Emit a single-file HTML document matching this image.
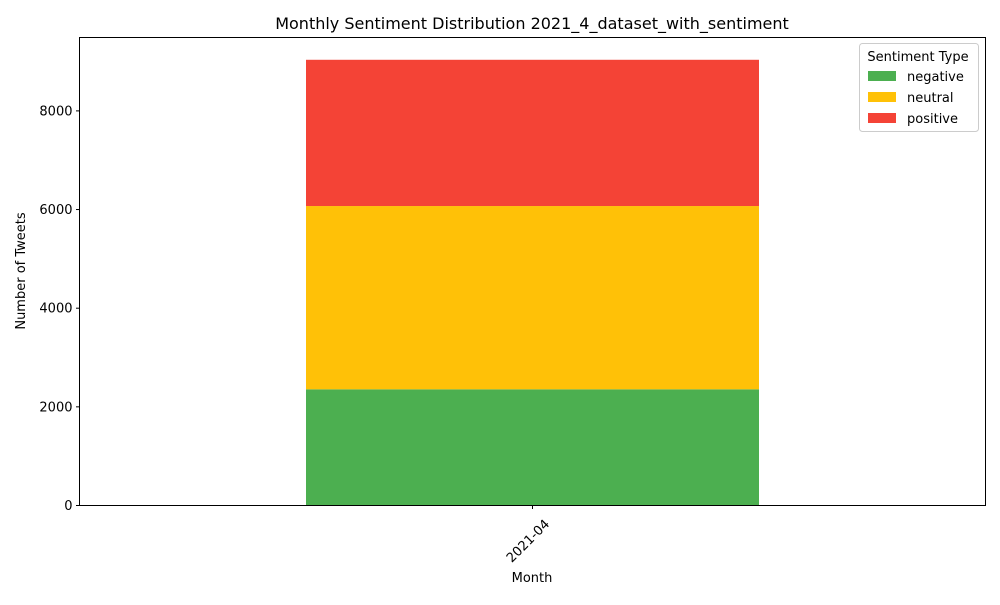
<!DOCTYPE html>
<html><head><meta charset="utf-8"><style>
body{margin:0;background:#fff;font-family:"Liberation Sans","DejaVu Sans",sans-serif;}
svg text{font-family:"DejaVu Sans","Liberation Sans",sans-serif;}
</style></head><body>
<svg id="chart" width="1000" height="600" viewBox="0 0 1000 600">
<rect width="1000" height="600" fill="#fff"/>
<text x="532" y="29" font-size="16" text-anchor="middle">Monthly Sentiment Distribution 2021_4_dataset_with_sentiment</text>
<g id="bars"></g>
<g id="yticks"></g>
<g id="xticks"></g>
<rect x="79.5" y="37.5" width="906" height="468" fill="none" stroke="#000" stroke-width="1"/>
<text x="532" y="582" font-size="13" text-anchor="middle">Month</text>
<text transform="translate(25,271) rotate(-90)" font-size="13" text-anchor="middle">Number of Tweets</text>
<g id="legend">
<rect x="859.5" y="43.5" width="119" height="88" rx="3" fill="#fff" stroke="#ccc"/>
<text x="918" y="61" font-size="13" text-anchor="middle">Sentiment Type</text>
</g>
</svg>
<script>
const categories = ["2021-04"];
const seriesNames = ["negative","neutral","positive"];
const negative = [2355];
const neutral = [3716];
const positive = [2965];
const yTickLabels = [0,2000,4000,6000,8000];
const colors = ["#4caf50","#ffc107","#f44336"];
const series = [negative, neutral, positive];

const NS="http://www.w3.org/2000/svg";
const L=79.5,R=985.5,T=37.5,B=505.5;
let maxTotal=0;
categories.forEach((c,i)=>{let s=0;series.forEach(a=>s+=a[i]);maxTotal=Math.max(maxTotal,s);});
const yMax=maxTotal*1.05;
const y=v=>B-(v/yMax)*(B-T);
const n=categories.length;
const x=i=>L+(i+0.5)/n*(R-L);
const bw=(R-L)/n*0.5;
function mk(tag,attrs,parent){const e=document.createElementNS(NS,tag);for(const k in attrs)e.setAttribute(k,attrs[k]);parent.appendChild(e);return e;}
const gb=document.getElementById('bars');
categories.forEach((c,i)=>{
  let base=0;
  series.forEach((a,si)=>{
    const r=mk('rect',{x:x(i)-bw/2,y:y(base+a[i]),width:bw,height:y(base)-y(base+a[i]),fill:colors[si]},gb);
    
    
    base+=a[i];
  });
});
const gy=document.getElementById('yticks');
yTickLabels.forEach(v=>{
  const l=mk('line',{x1:L-3.5,x2:L,y1:y(v),y2:y(v),stroke:'#000'},gy);
  
  
  const t=mk('text',{x:L-7,y:y(v)+4.5,'font-size':13,'text-anchor':'end'},gy);
  t.textContent=v;
  
  
});
const gx=document.getElementById('xticks');
categories.forEach((c,i)=>{
  const l=mk('line',{x1:x(i),x2:x(i),y1:B,y2:B+3.5,stroke:'#000'},gx);
  
  
  const t=mk('text',{transform:`translate(${x(i)-4},${B+36}) rotate(-45)`,'font-size':13,'text-anchor':'middle','dominant-baseline':'middle'},gx);
  t.textContent=c;
  
  
});
const lg=document.getElementById('legend');
seriesNames.forEach((s,si)=>{
  const yy=71+si*21;
  const r=mk('rect',{x:868,y:yy,width:28,height:10,fill:colors[si]},lg);
  
  
  const t=mk('text',{x:907,y:yy+10,'font-size':13},lg);
  t.textContent=s;
  
  
});
</script>
</body></html>
